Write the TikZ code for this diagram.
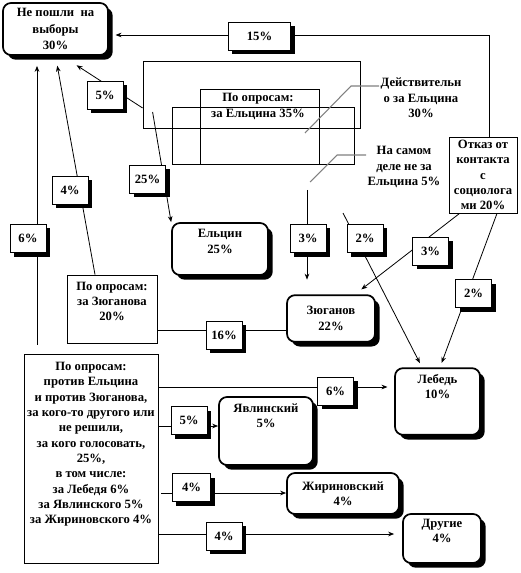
\documentclass[tikz,border=0pt]{standalone}
\usepackage{fontspec}
\setmainfont{Liberation Serif}
\usetikzlibrary{arrows.meta, positioning, calc, shadows}

\begin{document}
\begin{tikzpicture}[x=0.75pt, y=-0.75pt,
  base/.style={font=\fontsize{9.5}{11.5}\selectfont\bfseries, align=center},
  pct/.style={base, rectangle, draw, fill=white, line width=0.6pt, minimum width=27pt, minimum height=21pt, inner sep=1pt, drop shadow={shadow xshift=3pt, shadow yshift=-3pt, fill=black, opacity=1}},
  res/.style={base, rectangle, rounded corners=6pt, draw, line width=1.3pt, fill=white, inner sep=1pt, drop shadow={shadow xshift=3.5pt, shadow yshift=-3.5pt, fill=black, opacity=1}},
  poll/.style={base, rectangle, draw, fill=white, line width=0.6pt, inner sep=1pt},
  zone/.style={rectangle, draw, line width=0.6pt, inner sep=0pt},
  note/.style={base, inner sep=1pt},
  lead/.style={draw=gray, line width=0.8pt},
  link/.style={line width=0.6pt},
  arr/.style={link, -{Stealth[length=4.5pt, width=3.5pt]}}]
  \useasboundingbox (0,0) rectangle (520,573);

  \node[res, minimum width=78.75pt, minimum height=39pt, font=\fontsize{9.5}{12.4}\selectfont\bfseries] (nepos) at (55.5,29) {Не пошли~ на\\выборы\\30\%};
  \node[res, minimum width=72pt, minimum height=39pt] (elt) at (220,249) {Ельцин\\25\%\\\mbox{}};
  \node[res, minimum width=66pt, minimum height=35pt] (zyu) at (331,318.5) {Зюганов\\22\%};
  \node[res, minimum width=63.75pt, minimum height=50pt] (leb) at (437.5,401.5) {Лебедь\\10\%\\\mbox{}\\\mbox{}};
  \node[res, minimum width=70.5pt, minimum height=51pt] (yav) at (266,431) {Явлинский\\5\%\\\mbox{}\\\mbox{}};
  \node[res, minimum width=84pt, minimum height=30.75pt] (zhir) at (343,493.5) {Жириновский\\4\%};
  \node[res, minimum width=58.5pt, minimum height=36.75pt] (dr) at (442,538.5) {Другие\\4\%\\\mbox{}};

  \node[poll, minimum width=67.5pt, minimum height=51pt] (zpoll) at (112,309) {По опросам:\\за Зюганова\\20\%\\\mbox{}};
  \node[poll, minimum width=100.5pt, minimum height=156.75pt, inner xsep=0pt] (big) at (91,458.5) {По опросам:\\против Ельцина\\и против Зюганова,\\за кого-то другого или\\не решили,\\за кого голосовать,\\25\%,\\в том числе:\\за Лебедя 6\%\\за Явлинского 5\%\\за Жириновского 4\%\\\mbox{}\\\mbox{}};
  \node[poll, minimum width=51pt, minimum height=57pt] (otk) at (483,175) {Отказ от\\контакта\\с\\социолога\\ми 20\%};

  \node[zone, minimum width=162.75pt, minimum height=50.25pt] (zA) at (251.5,94.5) {};
  \node[zone, minimum width=89.25pt, minimum height=56.25pt] (zB) at (259.5,126.5) {};
  \node[zone, minimum width=136.5pt, minimum height=42.75pt] (zC) at (263,135.5) {};
  \node[note] (e35) at (258,106.5) {По опросам:\\за Ельцина 35\%};

  \node[note] (dejs) at (421,98) {Действительн\\о за Ельцина\\30\%};
  \node[note] (nsd) at (404,167) {На самом\\деле не за\\Ельцина 5\%};
  \coordinate (d1) at (351,86);
  \coordinate (d2) at (305,133);
  \draw[lead] (dejs.west |- d1) -- (d1) -- (d2);
  \coordinate (n1) at (337,155);
  \coordinate (n2) at (310,182);
  \draw[lead] (nsd.west |- n1) -- (n1) -- (n2);

  \coordinate (s1) at (307,190);
  \draw[arr, shorten >=11pt] (s1) -- (s1 |- zyu.north);
  \coordinate (s2) at (343,213);
  \draw[arr, shorten >=3.5pt] (s2) -- ($(leb.north)+(-15.5,0)$);
  \draw[arr, shorten >=6pt] ($(otk.south west)+(11,0)$) -- ($(zyu.north)+(24,0)$);
  \draw[arr, shorten >=3.5pt] ($(otk.south)+(14,0)$) -- ($(leb.north)+(2.5,0)$);
  \draw[arr, shorten >=5pt] ($(otk.north)+(6,0)$) |- ($(nepos.east)+(0,6)$);
  \draw[arr, shorten >=13pt] ($(zA.west)+(0,13.5)$) -- ($(nepos.south)+(6.5,0)$);
  \draw[arr, shorten >=7.5pt] ($(zpoll.north)+(-17,0)$) -- (nepos.south);
  \draw[arr, shorten >=7.5pt] ($(big.north)+(-54,-9)$) -- ($(nepos.south)+(-18.5,0)$);
  \draw[arr] ($(zA.west)+(10,17.5)$) -- (elt.north west);
  \draw[link] ($(zpoll.east)+(0,21)$) -- ($(zyu.west)+(0,11.5)$);
  \draw[arr, shorten >=5pt] ($(big.east)+(0,-71.5)$) -- ($(leb.west)+(0,-14.5)$);
  \draw[arr] ($(big.east)+(0,-32.5)$) -- ($(yav.west)+(0,-5)$);
  \draw[arr] ($(big.east)+(3,34.5)$) -- ($(zhir.west)+(0,-0.5)$);
  \draw[arr, shorten >=6pt] ($(big.east)+(0,75.5)$) -- ($(dr.west)+(0,-4.5)$);

  \node[pct, minimum width=47pt] (p15) at (259.5,36.5) {15\%};
  \node[pct] (p5a) at (105,95) {5\%};
  \node[pct] (p25) at (147.5,179) {25\%};
  \node[pct] (p4a) at (70,190.5) {4\%};
  \node[pct] (p6a) at (28,238.5) {6\%};
  \node[pct] (p3a) at (308,238.5) {3\%};
  \node[pct] (p2a) at (365,238.5) {2\%};
  \node[pct] (p3b) at (430.5,251) {3\%};
  \node[pct] (p2b) at (473.5,293.5) {2\%};
  \node[pct] (p16) at (224,335) {16\%};
  \node[pct] (p6b) at (335.5,391) {6\%};
  \node[pct] (p5b) at (189,420.5) {5\%};
  \node[pct, minimum width=29pt] (p4b) at (191.5,487.5) {4\%};
  \node[pct] (p4c) at (224,536) {4\%};
\end{tikzpicture}
\end{document}
